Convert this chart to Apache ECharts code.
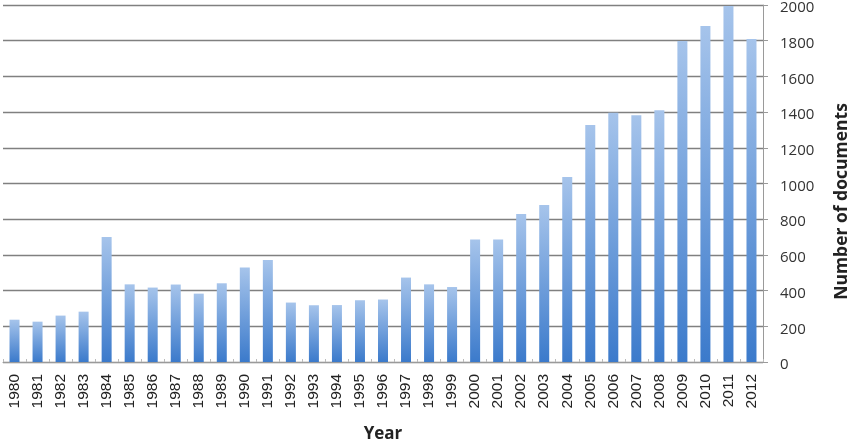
<!DOCTYPE html>
<html>
<head>
<meta charset="utf-8">
<script src="https://cdn.jsdelivr.net/npm/echarts@6/dist/echarts.min.js"></script>
<style>html,body{margin:0;padding:0;background:#fff;}#c{width:850px;height:444px;}</style>
</head>
<body>
<div id="c"></div>
<script>
const years = ['1980','1981','1982','1983','1984','1985','1986','1987','1988','1989','1990','1991','1992','1993','1994','1995','1996','1997','1998','1999','2000','2001','2002','2003','2004','2005','2006','2007','2008','2009','2010','2011','2012'];
const documents = [237,226,260,282,700,435,417,434,383,441,530,571,333,318,319,346,350,473,435,420,686,686,829,880,1037,1328,1397,1382,1410,1798,1882,1995,1810];
const yTicks = {min: 0, max: 2000, interval: 200};

const chart = echarts.init(document.getElementById('c'));
chart.setOption({
  animation: false,
  grid: {left: 3, right: 87, top: 5, bottom: 82, containLabel: false, outerBoundsMode: 'none'},
  xAxis: {
    type: 'category',
    data: years,
    boundaryGap: true,
    name: 'Year',
    nameLocation: 'middle',
    nameGap: 64,
    nameTextStyle: {fontFamily: 'Open Sans', fontWeight: 'bold', fontSize: 17, color: '#222'},
    axisLine: {lineStyle: {color: '#9a9a9a', width: 1}},
    axisTick: {show: true, inside: true, length: 3, interval: 0, lineStyle: {color: '#bbbbbb'}},
    axisLabel: {rotate: 90, interval: 0, margin: 12, fontFamily: 'Liberation Sans', fontSize: 15.5, color: '#222'}
  },
  yAxis: {
    type: 'value',
    position: 'right',
    min: yTicks.min, max: yTicks.max, interval: yTicks.interval,
    name: 'Number of documents',
    nameLocation: 'middle',
    nameRotate: 90,
    nameGap: 70,
    nameTextStyle: {fontFamily: 'Open Sans', fontWeight: 'bold', fontSize: 17.5, color: '#222', padding: [0, 36, 0, 0]},
    axisLine: {show: true, lineStyle: {color: '#9a9a9a', width: 1}},
    axisTick: {show: true, length: 5, lineStyle: {color: '#9a9a9a'}},
    axisLabel: {margin: 17, verticalAlign: 'top', lineHeight: 6, fontFamily: 'Open Sans', fontSize: 15, color: '#333', formatter: function (v) { return String(v); }},
    splitLine: {show: true, lineStyle: {color: '#808080', width: 1.3}}
  },
  series: [{
    type: 'bar',
    data: documents,
    barWidth: 10,
    itemStyle: {
      color: new echarts.graphic.LinearGradient(0, 0, 0, 1, [
        {offset: 0, color: '#a6c4eb'},
        {offset: 1, color: '#3b7acb'}
      ])
    }
  }]
});
</script>
</body>
</html>
